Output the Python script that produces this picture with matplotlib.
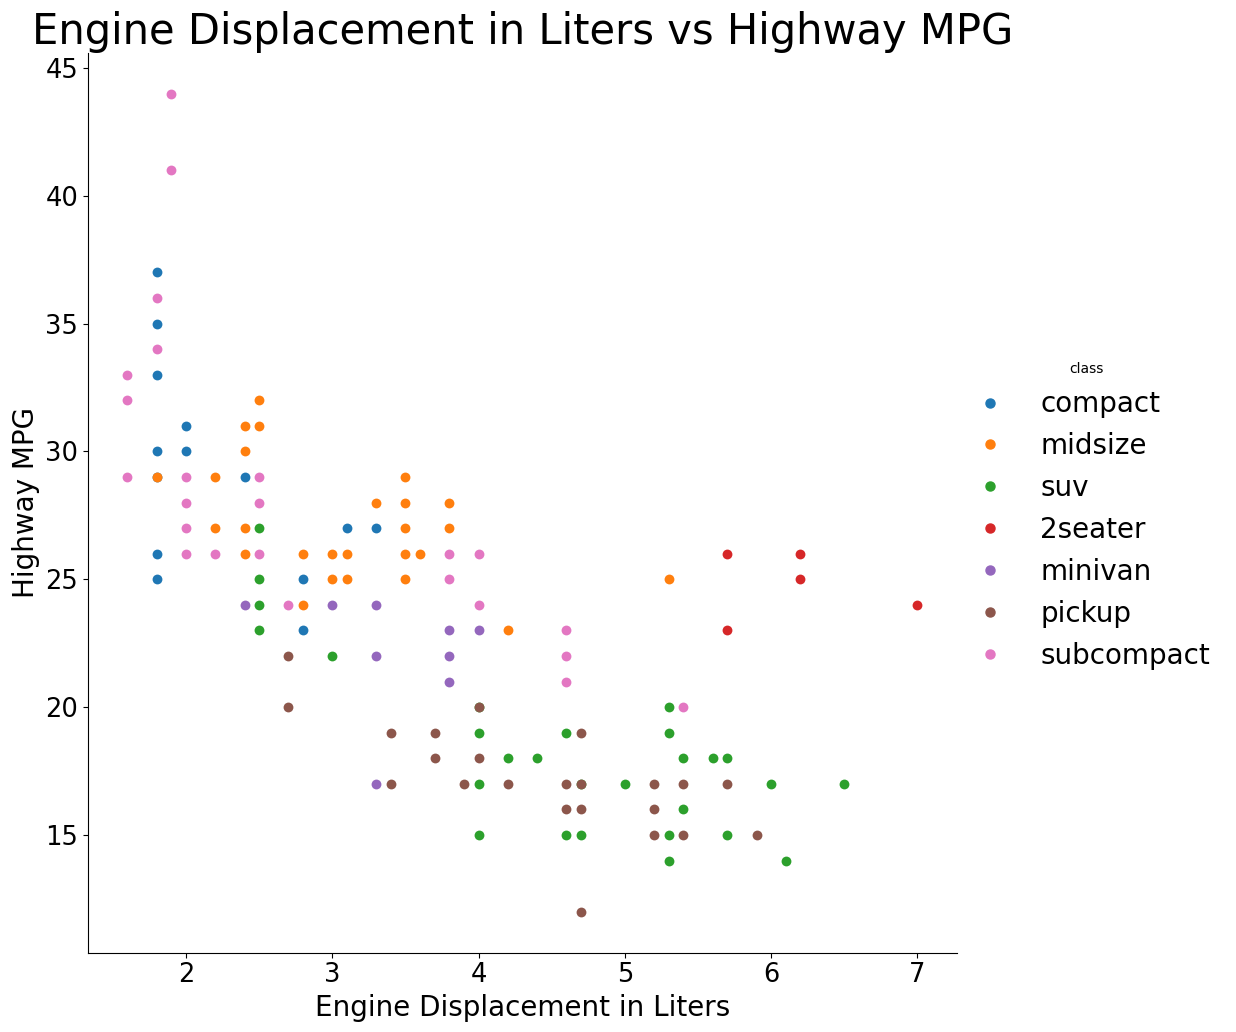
import matplotlib
matplotlib.use("Agg")
import matplotlib.pyplot as plt
from matplotlib.lines import Line2D

classes = ["compact", "midsize", "suv", "2seater", "minivan", "pickup", "subcompact"]
colors = ["#1f77b4", "#ff7f0e", "#2ca02c", "#d62728", "#9467bd", "#8c564b", "#e377c2"]

compact_displ = [1.8, 1.8, 1.8, 1.8, 1.8, 1.8, 1.8, 2.0, 2.0, 2.4, 2.8, 2.8, 3.1, 3.3]
compact_hwy = [37, 35, 33, 30, 29, 26, 25, 31, 30, 29, 25, 23, 27, 27]

midsize_displ = [1.8, 2.2, 2.2, 2.4, 2.4, 2.4, 2.4, 2.5, 2.5, 2.8, 2.8, 3.0, 3.0, 3.1, 3.1,
                 3.3, 3.5, 3.5, 3.5, 3.5, 3.5, 3.6, 3.8, 3.8, 4.2, 5.3]
midsize_hwy = [29, 29, 27, 31, 30, 27, 26, 32, 31, 26, 24, 26, 25, 26, 25,
               28, 29, 28, 27, 26, 25, 26, 28, 27, 23, 25]

suv_displ = [2.5, 2.5, 2.5, 2.5, 3.0, 4.0, 4.0, 4.0, 4.0, 4.2, 4.4, 4.6, 4.6, 4.7, 4.7,
             5.0, 5.3, 5.3, 5.3, 5.3, 5.4, 5.4, 5.6, 5.7, 5.7, 6.0, 6.1, 6.5]
suv_hwy = [27, 25, 24, 23, 22, 20, 19, 17, 15, 18, 18, 19, 15, 15, 17,
           17, 20, 19, 15, 14, 18, 16, 18, 18, 15, 17, 14, 17]

twoseater_displ = [5.7, 5.7, 6.2, 6.2, 7.0]
twoseater_hwy = [26, 23, 26, 25, 24]

minivan_displ = [2.4, 3.0, 3.3, 3.3, 3.3, 3.8, 3.8, 3.8, 4.0]
minivan_hwy = [24, 24, 24, 22, 17, 23, 22, 21, 23]

pickup_displ = [2.7, 2.7, 3.4, 3.4, 3.7, 3.7, 3.9, 4.0, 4.0, 4.2, 4.6, 4.6, 4.7, 4.7, 4.7,
                4.7, 5.2, 5.2, 5.2, 5.4, 5.4, 5.7, 5.9]
pickup_hwy = [22, 20, 19, 17, 19, 18, 17, 20, 18, 17, 17, 16, 19, 17, 16,
              12, 17, 16, 15, 17, 15, 17, 15]

subcompact_displ = [1.6, 1.6, 1.6, 1.8, 1.8, 1.9, 1.9, 2.0, 2.0, 2.0, 2.0, 2.2, 2.5, 2.5,
                    2.5, 2.7, 3.8, 3.8, 4.0, 4.0, 4.6, 4.6, 4.6, 5.4]
subcompact_hwy = [33, 32, 29, 36, 34, 44, 41, 29, 28, 27, 26, 26, 29, 28,
                  26, 24, 26, 25, 26, 24, 23, 22, 21, 20]

series = [
    (compact_displ, compact_hwy),
    (midsize_displ, midsize_hwy),
    (suv_displ, suv_hwy),
    (twoseater_displ, twoseater_hwy),
    (minivan_displ, minivan_hwy),
    (pickup_displ, pickup_hwy),
    (subcompact_displ, subcompact_hwy),
]

fig = plt.figure(figsize=(12.36, 10.32), dpi=100)
ax = fig.add_axes([0.0712, 0.077, 0.703, 0.872])

handles = []
for name, col, (xs, ys) in zip(classes, colors, series):
    ax.scatter(xs, ys, s=50, color=col, linewidths=0, label=name)
    handles.append(Line2D([], [], marker="o", linestyle="", color=col,
                          markersize=6.5, label=name))

ax.spines["top"].set_visible(False)
ax.spines["right"].set_visible(False)
ax.tick_params(labelsize=18.5)
ax.set_xlabel("Engine Displacement in Liters", fontsize=20)
ax.set_ylabel("Highway MPG", fontsize=20)
ax.set_title("Engine Displacement in Liters vs Highway MPG", fontsize=30)

fig.legend(handles=handles, loc="center left", bbox_to_anchor=(0.7586, 0.5),
           frameon=False, fontsize=20, title="class", title_fontsize=10)

fig.savefig("out.png", dpi=100)
